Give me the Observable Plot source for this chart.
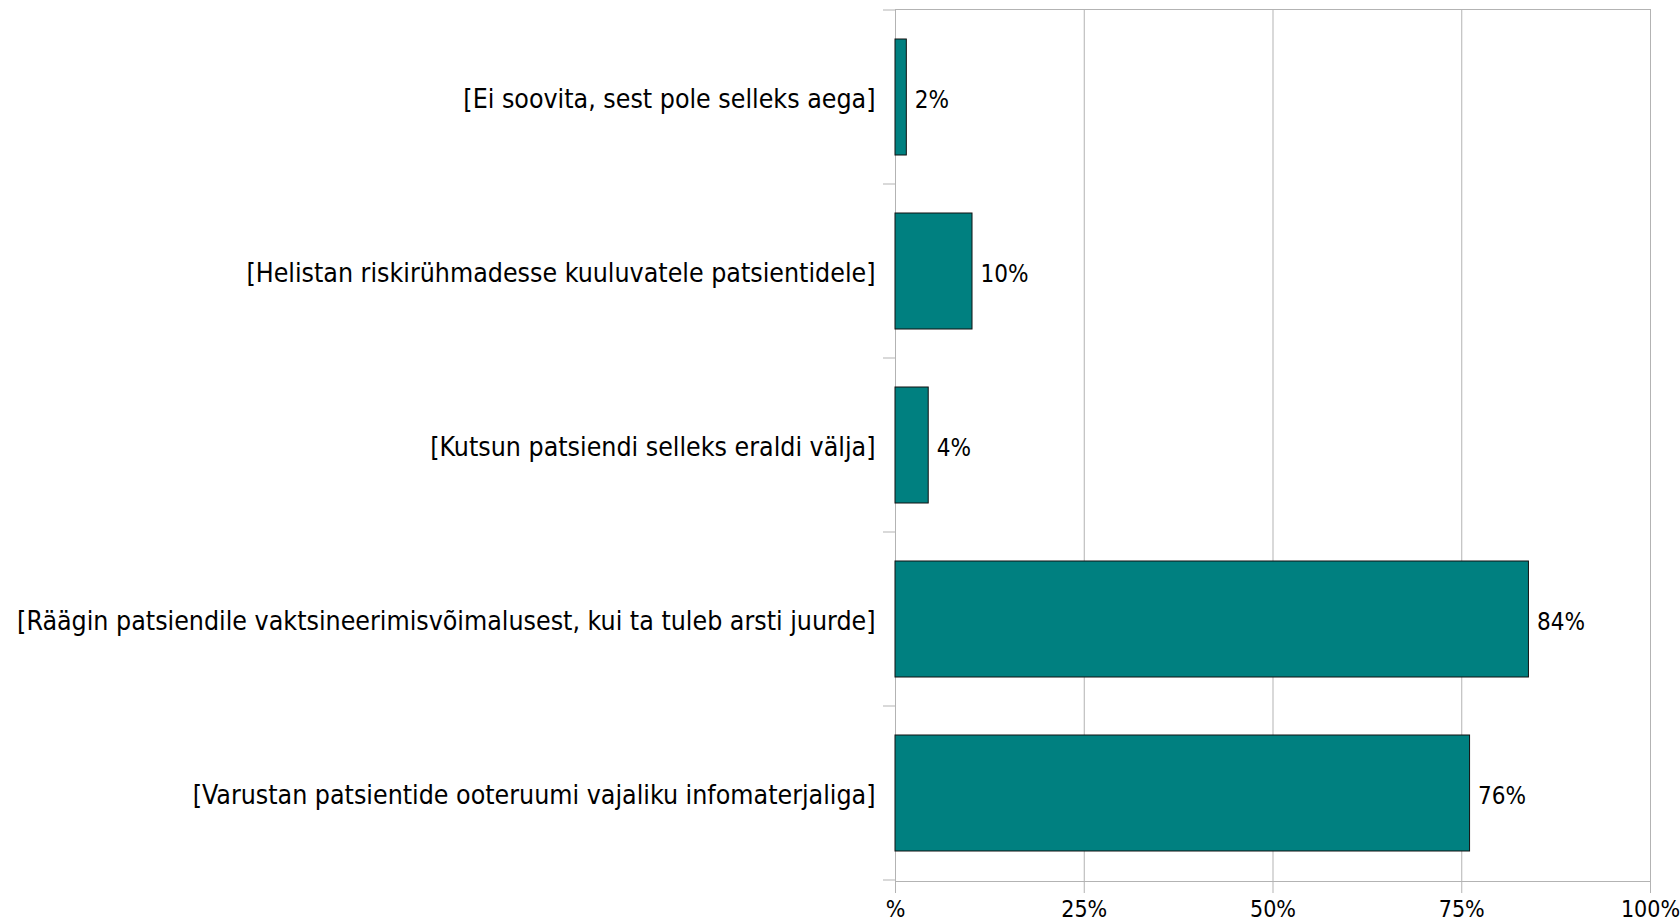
<!DOCTYPE html>
<html><head><meta charset="utf-8">
<script src="https://cdn.jsdelivr.net/npm/d3@7"></script>
<script src="https://cdn.jsdelivr.net/npm/@observablehq/plot@0.6"></script>
<style>body{margin:0;background:#fff} svg{display:block}</style>
</head><body><div id="chart"></div>
<script>
const categories = [
  "[Ei soovita, sest pole selleks aega]",
  "[Helistan riskirühmadesse kuuluvatele patsientidele]",
  "[Kutsun patsiendi selleks eraldi välja]",
  "[Räägin patsiendile vaktsineerimisvõimalusest, kui ta tuleb arsti juurde]",
  "[Varustan patsientide ooteruumi vajaliku infomaterjaliga]"
];
const values = [1.5, 10.2, 4.4, 83.9, 76.1];
const valueLabels = ["2%", "10%", "4%", "84%", "76%"];
const xTicks = [0, 25, 50, 75, 100];
const xTickLabels = ["%", "25%", "50%", "75%", "100%"];

const data = categories.map((c, i) => ({category: c, value: values[i], label: valueLabels[i]}));
const FONT = "DejaVu Sans Condensed";
const GRID = "#b3b3b3";

const plot = Plot.plot({
  width: 1680, height: 922,
  marginLeft: 895, marginRight: 30, marginTop: 9, marginBottom: 41,
  style: {fontFamily: FONT, fontSize: "26.5px", color: "#000", background: "#fff"},
  x: {domain: [0, 100]},
  y: {domain: categories, paddingInner: 0.333, paddingOuter: 0.1667},
  marks: [
    Plot.gridX(xTicks, {stroke: GRID, strokeOpacity: 1, strokeWidth: 1}),
    Plot.frame({stroke: GRID, strokeWidth: 1}),
    Plot.axisX({ticks: xTicks, tickFormat: d => xTickLabels[xTicks.indexOf(d)], tickSize: 12, tickPadding: 7,
      stroke: GRID, strokeOpacity: 1, fill: "#000", fontSize: 23, fontFamily: FONT, label: null}),
    Plot.axisY({tickSize: 0, tickPadding: 20, dy: 2, fontSize: 26.5, fontFamily: FONT, fill: "#000", label: null}),
    Plot.barX(data, {x: "value", y: "category", fill: "#008080", stroke: "#111", strokeWidth: 1}),
    Plot.text(data, {x: "value", y: "category", text: "label", textAnchor: "start", dx: 8, dy: 3,
      fontSize: 24, fontFamily: FONT, fill: "#000"})
  ]
});

// category boundary ticks on the y axis, from the library's band scale
const ys = plot.scale("y"), xs = plot.scale("x");
const half = (ys.step - ys.bandwidth) / 2;
const edges = categories.map(c => ys.apply(c) - half);
edges.push(ys.apply(categories[categories.length - 1]) + ys.bandwidth + half);
const x0 = xs.apply(0);
d3.select(plot).append("g").selectAll("line").data(edges).join("line")
  .attr("x1", x0 - 12).attr("x2", x0).attr("y1", d => d).attr("y2", d => d)
  .attr("stroke", GRID).attr("stroke-width", 1);

document.getElementById("chart").appendChild(plot);
</script>
</body></html>
